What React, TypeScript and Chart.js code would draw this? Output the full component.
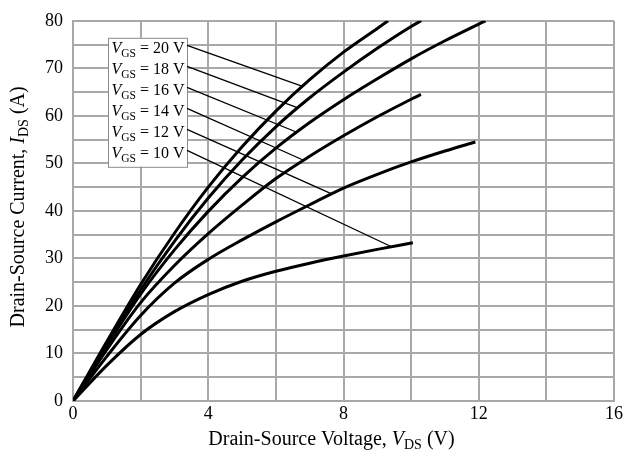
import React, { useEffect, useRef } from 'react';
import { Chart, registerables } from 'chart.js';

Chart.register(...registerables);

// Gate-source voltages (legend order, top curve first)
const vgsLabels = ['20', '18', '16', '14', '12', '10'];

// Drain-source voltage (V) / current (A) for each curve
const vds20 = [0, 1, 2, 3, 4, 5, 6, 7, 8, 9, 9.32];
const ids20 = [0, 12.5, 24.5, 35.3, 45, 53.5, 61, 67.6, 73.4, 78.4, 80];

const vds18 = [0, 1, 2, 3, 4, 5, 6, 7, 8, 9, 10, 10.3];
const ids18 = [0, 12, 23.4, 33.6, 42.7, 50.7, 57.7, 63.8, 69.2, 74.2, 78.8, 80];

const vds16 = [0, 1, 2, 3, 4, 5, 6, 7, 8, 9, 10, 11, 12, 12.2];
const ids16 = [0, 11.6, 22.5, 31.8, 39.9, 47, 53.2, 58.6, 63.4, 67.8, 72, 75.8, 79.3, 80];

const vds14 = [0, 1, 2, 3, 4, 5, 6, 7, 8, 9, 10, 10.29];
const ids14 = [0, 10.8, 20.7, 28.5, 35.2, 41.2, 46.8, 51.5, 55.8, 59.8, 63.5, 64.5];

const vds12 = [0, 1, 2, 3, 4, 5, 6, 7, 8, 9, 10, 11, 11.9];
const ids12 = [0, 9.4, 18, 24.8, 29.8, 33.9, 37.7, 41.3, 44.8, 47.7, 50.3, 52.6, 54.5];

const vds10 = [0, 1, 2, 3, 4, 5, 6, 7, 8, 9, 10.05];
const ids10 = [0, 7.5, 14, 18.8, 22.4, 25.2, 27.3, 29, 30.5, 31.9, 33.3];

// V_DS where each legend leader line meets its curve
const leaderVds = [6.79, 6.65, 6.62, 6.82, 7.65, 9.42];

const xTicks = [0, 4, 8, 12, 16];
const yTicks = [0, 10, 20, 30, 40, 50, 60, 70, 80];

const seriesV = [vds20, vds18, vds16, vds14, vds12, vds10];
const seriesI = [ids20, ids18, ids16, ids14, ids12, ids10];

const FONT = "'Liberation Serif', 'Times New Roman', serif";
const GRID = '#a8a8a8';

function interp(xs: number[], ys: number[], x: number): number {
  for (let i = 1; i < xs.length; i++) {
    if (x <= xs[i]) {
      const t = (x - xs[i - 1]) / (xs[i] - xs[i - 1]);
      return ys[i - 1] + t * (ys[i] - ys[i - 1]);
    }
  }
  return ys[ys.length - 1];
}

function drawSubText(
  ctx: CanvasRenderingContext2D,
  parts: { t: string; italic?: boolean; sub?: boolean }[],
  size: number,
  subSize: number,
  x: number,
  y: number,
  align: 'left' | 'center'
) {
  const fontFor = (p: { italic?: boolean; sub?: boolean }) =>
    `${p.italic ? 'italic ' : ''}${p.sub ? subSize : size}px ${FONT}`;
  let total = 0;
  for (const p of parts) {
    ctx.font = fontFor(p);
    total += ctx.measureText(p.t).width;
  }
  let cx = align === 'center' ? x - total / 2 : x;
  ctx.textAlign = 'left';
  ctx.textBaseline = 'alphabetic';
  for (const p of parts) {
    ctx.font = fontFor(p);
    ctx.fillText(p.t, cx, p.sub ? y + size * 0.22 : y);
    cx += ctx.measureText(p.t).width;
  }
}

const annotations = {
  id: 'annotations',
  afterDraw(chart: any) {
    const ctx: CanvasRenderingContext2D = chart.ctx;
    const { left, top, right, bottom } = chart.chartArea;
    const xs = chart.scales.x;
    const ys = chart.scales.y;
    ctx.save();
    ctx.fillStyle = '#000';

    // x-axis title
    drawSubText(
      ctx,
      [{ t: 'Drain-Source Voltage, ' }, { t: 'V', italic: true }, { t: 'DS', sub: true }, { t: ' (V)' }],
      20, 14, (left + right) / 2 - 12, bottom + 44, 'center'
    );

    // y-axis title (rotated)
    ctx.save();
    ctx.translate(24, (top + bottom) / 2 - 4);
    ctx.rotate(-Math.PI / 2);
    drawSubText(
      ctx,
      [{ t: 'Drain-Source Current, ' }, { t: 'I', italic: true }, { t: 'DS', sub: true }, { t: ' (A)' }],
      20, 14, 0, 0, 'center'
    );
    ctx.restore();

    // legend box
    const bx = left + 35;
    const by = top + 17;
    const bw = 79;
    const bh = 129;
    ctx.fillStyle = '#fff';
    ctx.fillRect(bx, by, bw, bh);
    ctx.strokeStyle = '#8a8a8a';
    ctx.lineWidth = 1;
    ctx.strokeRect(bx + 0.5, by + 0.5, bw, bh);

    ctx.fillStyle = '#000';
    vgsLabels.forEach((v, i) => {
      const base = by + 15.5 + i * 21;
      drawSubText(
        ctx,
        [{ t: 'V', italic: true }, { t: 'GS', sub: true }, { t: ` = ${v} V` }],
        16, 11.5, bx + 3.5, base, 'left'
      );
      // leader line to curve
      const tx = xs.getPixelForValue(leaderVds[i]);
      const ty = ys.getPixelForValue(interp(seriesV[i], seriesI[i], leaderVds[i]));
      ctx.beginPath();
      ctx.strokeStyle = '#000';
      ctx.lineWidth = 1.3;
      ctx.moveTo(bx + bw, base - 8);
      ctx.lineTo(tx, ty);
      ctx.stroke();
    });
    ctx.restore();
  },
};

export default function App() {
  const ref = useRef<HTMLCanvasElement | null>(null);

  useEffect(() => {
    if (!ref.current) return;
    const datasets = seriesV.map((vs, k) => ({
      label: `VGS = ${vgsLabels[k]} V`,
      data: vs.map((v, i) => ({ x: v, y: seriesI[k][i] })),
      borderColor: '#000',
      borderWidth: 3,
      pointRadius: 0,
      fill: false,
      cubicInterpolationMode: 'monotone' as const,
    }));

    const chart = new Chart(ref.current, {
      type: 'line',
      data: { datasets },
      plugins: [annotations],
      options: {
        animation: false,
        responsive: false,
        maintainAspectRatio: false,
        layout: { padding: { top: 16, right: 11, left: 0, bottom: 0 } },
        plugins: { legend: { display: false }, tooltip: { enabled: false } },
        scales: {
          x: {
            type: 'linear',
            min: 0,
            max: 16,
            afterFit: (s: any) => { s.height = 54; },
            ticks: {
              stepSize: 2,
              autoSkip: false,
              maxRotation: 0,
              padding: 2,
              color: '#000',
              font: { family: FONT, size: 18 },
              callback: (v: any) => (xTicks.includes(Number(v)) ? String(v) : ''),
            },
            grid: { color: GRID, lineWidth: 2, drawTicks: false },
            border: { color: GRID, width: 2 },
          },
          y: {
            type: 'linear',
            min: 0,
            max: 80,
            afterFit: (s: any) => { s.width = 73; },
            ticks: {
              stepSize: 5,
              autoSkip: false,
              padding: 10,
              color: '#000',
              font: { family: FONT, size: 18 },
              callback: (v: any) => (yTicks.includes(Number(v)) ? String(v) : ''),
            },
            grid: { color: GRID, lineWidth: 2, drawTicks: false },
            border: { color: GRID, width: 2 },
          },
        },
      },
    });
    return () => chart.destroy();
  }, []);

  return (
    <div style={{ position: 'absolute', left: 0, top: 0, width: 625, height: 455, background: '#fff' }}>
      <canvas ref={ref} width={625} height={455} style={{ display: 'block' }} />
    </div>
  );
}
